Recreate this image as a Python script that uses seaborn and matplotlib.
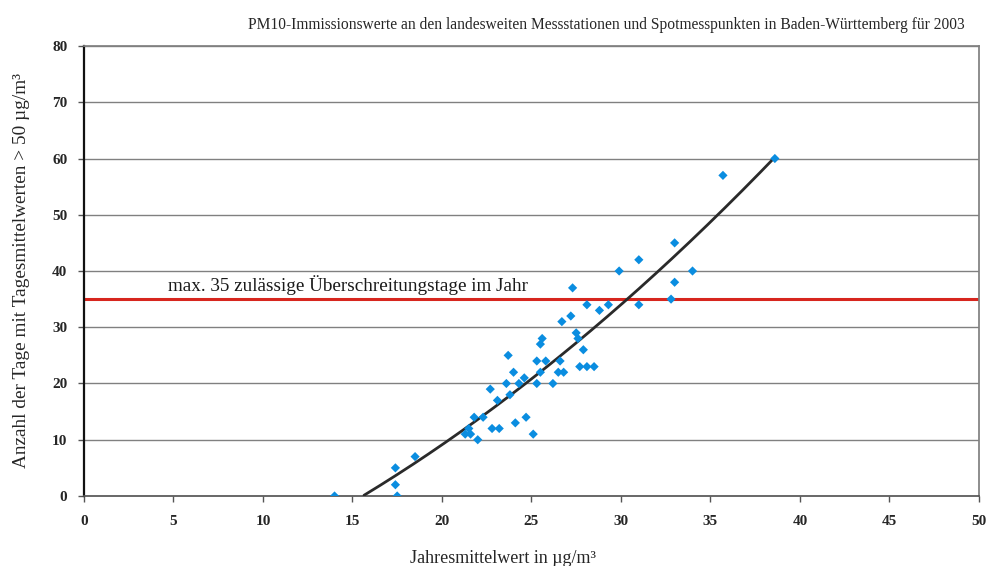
import numpy as np
import pandas as pd
import matplotlib
matplotlib.use("Agg")
import matplotlib.pyplot as plt
import seaborn as sns

# ==================== DATEN ====================
jahresmittel = [14.0, 17.4, 17.4, 17.5, 18.5, 21.3, 21.6, 21.5, 21.8, 22.0,
                22.3, 22.7, 22.8, 23.2, 23.1, 23.6, 23.7, 23.8, 24.0, 24.1,
                24.3, 24.6, 24.7, 25.1, 25.3, 25.3, 25.5, 25.5, 25.6, 25.8,
                26.2, 26.5, 26.6, 26.7, 26.8, 27.2, 27.3, 27.5, 27.6, 27.7,
                27.9, 28.1, 28.1, 28.5, 28.8, 29.3, 29.9, 31.0, 31.0, 32.8,
                33.0, 33.0, 34.0, 35.7, 38.6]
tage_ueber_50 = [0, 5, 2, 0, 7, 11, 11, 12, 14, 10,
                 14, 19, 12, 12, 17, 20, 25, 18, 22, 13,
                 20, 21, 14, 11, 20, 24, 22, 27, 28, 24,
                 20, 22, 24, 31, 22, 32, 37, 29, 28, 23,
                 26, 34, 23, 23, 33, 34, 40, 42, 34, 35,
                 45, 38, 40, 57, 60]
grenzwert = 35
x_ticks = list(range(0, 55, 5))
y_ticks = list(range(0, 90, 10))
# ===============================================

df = pd.DataFrame({"x": jahresmittel, "y": tage_ueber_50})

# Polynomischer Trend 2. Ordnung (wie in Excel)
coef = np.polyfit(df["x"], df["y"], 2)
xs = np.linspace(df["x"].min(), df["x"].max(), 300)
ys = np.polyval(coef, xs)
trend = pd.DataFrame({"x": xs, "y": ys})
trend = trend[(trend["y"] >= 0) & (trend["x"] > xs[np.argmin(ys)])]

sns.set_theme(style="white")
plt.rcParams["font.family"] = ["Liberation Serif", "DejaVu Serif"]

fig = plt.figure(figsize=(9.9, 5.66), dpi=100)
ax = fig.add_axes([0.0848, 0.1237, 0.904, 0.795])

for yv in y_ticks[1:]:
    ax.axhline(yv, color="#808080", lw=1.0, zorder=1)

ax.axhline(grenzwert, color="#d7261e", lw=2.2, zorder=2)
ax.text(4.7, grenzwert + 0.7, "max. 35 zulässige Überschreitungstage im Jahr",
        fontsize=13.8, va="bottom", ha="left", color="#1a1a1a")

sns.lineplot(data=trend, x="x", y="y", ax=ax, color="#2a2a2a", lw=2.0, zorder=3)
sns.scatterplot(data=df, x="x", y="y", ax=ax, marker="D", s=22, color="#0a8de0",
                edgecolor="none", zorder=4)

ax.set_xlim(0, 50)
ax.set_ylim(0, 80)
ax.set_xticks(x_ticks)
ax.set_yticks(y_ticks)
ax.tick_params(axis="both", which="both", direction="out", length=4, width=1,
               color="#555555", labelsize=11, bottom=True, left=True)
ax.tick_params(axis="x", pad=10)
ax.tick_params(axis="y", pad=8)
for lab in ax.get_xticklabels() + ax.get_yticklabels():
    lab.set_fontweight("bold")

ax.spines["left"].set_color("#111111")
ax.spines["left"].set_linewidth(1.6)
ax.spines["bottom"].set_color("#555555")
ax.spines["top"].set_color("#808080")
ax.spines["right"].set_color("#808080")

ax.set_xlabel("Jahresmittelwert in µg/m³", fontsize=13)
ax.xaxis.set_label_coords(0.468, -0.12)
ax.set_ylabel("Anzahl der Tage mit Tagesmittelwerten > 50 µg/m³", fontsize=13.9)
ax.yaxis.set_label_coords(-0.060, 0.502)
ax.set_title("PM10-Immissionswerte an den landesweiten Messstationen und Spotmesspunkten in Baden-Württemberg für 2003",
             fontsize=11.2, pad=12, x=0.584)

fig.savefig("out.png", dpi=100)
